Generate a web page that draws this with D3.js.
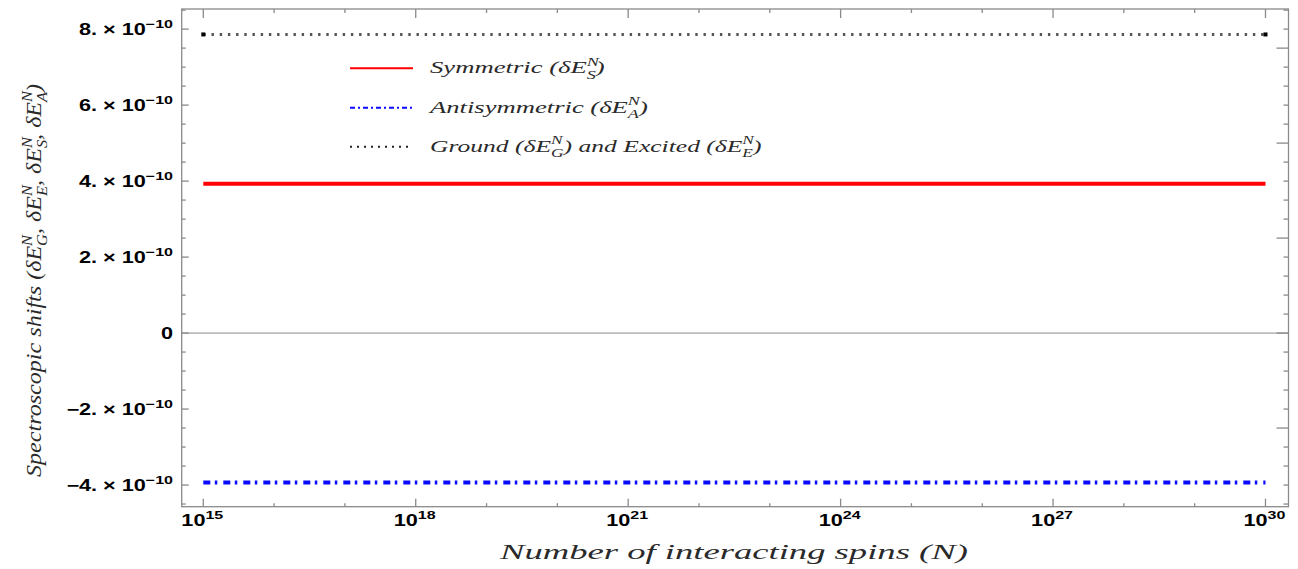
<!DOCTYPE html>
<html>
<head>
<meta charset="utf-8">
<title>Spectroscopic shifts</title>
<script src="https://d3js.org/d3.v7.min.js"></script>
<style>
body { margin: 0; background: #fff; }
svg { display: block; }
</style>
</head>
<body>
<div id="chart"></div>
<script>
// data
var spins = [1e15, 1e16, 1e17, 1e18, 1e19, 1e20, 1e21, 1e22, 1e23, 1e24, 1e25, 1e26, 1e27, 1e28, 1e29, 1e30];
var symmetric = [3.93e-10, 3.93e-10, 3.93e-10, 3.93e-10, 3.93e-10, 3.93e-10, 3.93e-10, 3.93e-10,
                 3.93e-10, 3.93e-10, 3.93e-10, 3.93e-10, 3.93e-10, 3.93e-10, 3.93e-10, 3.93e-10];
var antisymmetric = [-3.93e-10, -3.93e-10, -3.93e-10, -3.93e-10, -3.93e-10, -3.93e-10, -3.93e-10, -3.93e-10,
                     -3.93e-10, -3.93e-10, -3.93e-10, -3.93e-10, -3.93e-10, -3.93e-10, -3.93e-10, -3.93e-10];
var groundExcited = [7.86e-10, 7.86e-10, 7.86e-10, 7.86e-10, 7.86e-10, 7.86e-10, 7.86e-10, 7.86e-10,
                     7.86e-10, 7.86e-10, 7.86e-10, 7.86e-10, 7.86e-10, 7.86e-10, 7.86e-10, 7.86e-10];
var yMajor = [-4e-10, -2e-10, 0, 2e-10, 4e-10, 6e-10, 8e-10];
var yLabels = ["\u22124.", "\u22122.", "0", "2.", "4.", "6.", "8."];
var yRightMajor = [-2.5e-10, 0, 2.5e-10, 5e-10, 7.5e-10];
var xMajorExp = [15, 18, 21, 24, 27, 30];

var w = 1298, h = 569;
var pLeft = 181.7, pRight = 1288.5, pTop = 9, pBottom = 506.7;
var frameColor = "#8a8a8a";

var svg = d3.select("#chart").append("svg").attr("width", w).attr("height", h);

var x = d3.scaleLog().domain([Math.pow(10, 14.695), Math.pow(10, 30.325)]).range([pLeft, pRight]);
var y = d3.scaleLinear().domain([-4.57e-10, 8.53e-10]).range([pBottom, pTop]);

// helper: text built from pieces, n = normal, up = superscript, dn = subscript stacked under last sup
mathText = function(sel, parts, fs, supScale){
	supScale = supScale || 0.68;
	var t = sel.append("text").style("font-size", fs + "px").attr("x", 0).attr("y", 0);
	var shift = 0, lastSup = 0;
	parts.forEach(function(p){
		var s = t.append("tspan").text(p[0]);
		if(p[1] == "up"){
			s.style("font-size", (fs*supScale) + "px").attr("dy", -fs*0.42 - shift);
			shift = -fs*0.42;
			lastSup = s.node().getComputedTextLength();
		} else if(p[1] == "dn"){
			s.style("font-size", (fs*supScale) + "px").attr("dy", fs*0.3 - shift).attr("dx", -lastSup);
			shift = fs*0.3;
		} else {
			if(shift != 0) s.attr("dy", -shift);
			shift = 0;
		}
	});
	return t;
}
// put a text at (px, py), stretched sideways by sx, optional rotation
place = function(t, px, py, sx, rot){
	t.attr("transform", "translate(" + px + "," + py + ")" + (rot ? " rotate(" + rot + ")" : "") + " scale(" + sx + ",1)");
	return t;
}
stretchTo = function(t, target){
	return target / t.node().getComputedTextLength();
}

// zero line
svg.append("line")
	.attr("x1", pLeft).attr("x2", pRight)
	.attr("y1", y(0)).attr("y2", y(0))
	.attr("stroke", frameColor).attr("stroke-width", 1);

// frame
svg.append("rect")
	.attr("x", pLeft).attr("y", pTop)
	.attr("width", pRight - pLeft).attr("height", pBottom - pTop)
	.attr("fill", "none").attr("stroke", frameColor).attr("stroke-width", 1.3);

var ticks = svg.append("g").attr("stroke", frameColor).attr("stroke-width", 1.3);

// y ticks, left
d3.range(-9, 18).forEach(function(i){
	var v = i * 0.5e-10;
	var major = yMajor.some(function(m){ return Math.abs(m - v) < 1e-13; });
	ticks.append("line").attr("x1", pLeft).attr("x2", pLeft + (major ? 7 : 4))
		.attr("y1", y(v)).attr("y2", y(v));
});
// y ticks, right
d3.range(-9, 18).forEach(function(i){
	var v = i * 0.5e-10;
	var major = yRightMajor.some(function(m){ return Math.abs(m - v) < 1e-13; });
	ticks.append("line").attr("x1", pRight).attr("x2", pRight - (major ? 12 : 5))
		.attr("y1", y(v)).attr("y2", y(v));
});
// x ticks, bottom and top
d3.range(15, 31).forEach(function(e){
	var major = xMajorExp.indexOf(e) >= 0;
	ticks.append("line").attr("x1", x(Math.pow(10, e))).attr("x2", x(Math.pow(10, e)))
		.attr("y1", pBottom).attr("y2", pBottom - (major ? 8 : 3.5));
	ticks.append("line").attr("x1", x(Math.pow(10, e))).attr("x2", x(Math.pow(10, e)))
		.attr("y1", pTop).attr("y2", pTop + (major ? 9 : 4));
});

// tick labels, bold and wide like the original
var tl = svg.append("g").style("font-family", "'Liberation Sans', Arial, sans-serif")
	.style("font-weight", "bold").attr("fill", "#000");
var probe = mathText(tl, [["8. \u00d7 10", "n"], ["\u221210", "up"]], 16, 0.74);
var tickSx = stretchTo(probe, 94);
probe.remove();

yMajor.forEach(function(v, i){
	var parts = v == 0 ? [["0", "n"]] : [[yLabels[i] + " \u00d7 10", "n"], ["\u221210", "up"]];
	var t = mathText(tl, parts, 16, 0.74).attr("text-anchor", "end");
	place(t, 173, y(v) + 5.5, tickSx);
});
xMajorExp.forEach(function(e){
	var t = mathText(tl, [["10", "n"], [String(e), "up"]], 16, 0.74).attr("text-anchor", "middle");
	place(t, x(Math.pow(10, e)) - 1, 526, tickSx);
});

// series
var line = d3.line()
	.x(function(d){ return x(d[0]); })
	.y(function(d){ return y(d[1]); });

svg.append("path")
	.attr("d", line(d3.zip(spins, symmetric)))
	.attr("fill", "none").attr("stroke", "#ff0000").attr("stroke-width", 4);

svg.append("path")
	.attr("d", line(d3.zip(spins, antisymmetric)))
	.attr("fill", "none").attr("stroke", "#0a0aff").attr("stroke-width", 4)
	.attr("stroke-dasharray", "7,4.5,2.5,6");

svg.append("path")
	.attr("d", line(d3.zip(spins, groundExcited)))
	.attr("fill", "none").attr("stroke", "#555").attr("stroke-width", 3)
	.attr("stroke-dasharray", "2.4,5.8");
[spins[0], spins[spins.length - 1]].forEach(function(n){
	svg.append("rect")
		.attr("x", x(n) - 2).attr("y", y(groundExcited[0]) - 2)
		.attr("width", 4).attr("height", 4).attr("fill", "#000");
});

// legend
var serif = "'Liberation Serif', 'Times New Roman', serif";
var legend = svg.append("g").style("font-family", serif).style("font-style", "italic").attr("fill", "#2a2a2a");
var legendRows = [
	{ y: 68.3, color: "#ff0000", dash: null, parts: [["Symmetric (\u03b4E", "n"], ["N", "up"], ["S", "dn"], [")", "n"]], width: 187 },
	{ y: 107.7, color: "#0a0aff", dash: "5,3,2,3", parts: [["Antisymmetric (\u03b4E", "n"], ["N", "up"], ["A", "dn"], [")", "n"]], width: 230 },
	{ y: 146.7, color: "#222", dash: "2,5", parts: [["Ground (\u03b4E", "n"], ["N", "up"], ["G", "dn"], [") and Excited (\u03b4E", "n"], ["N", "up"], ["E", "dn"], [")", "n"]], width: 355 }
];
legendRows.forEach(function(r){
	legend.append("line")
		.attr("x1", 350).attr("x2", 413).attr("y1", r.y).attr("y2", r.y)
		.attr("stroke", r.color).attr("stroke-width", 2)
		.attr("stroke-dasharray", r.dash);
	var t = mathText(legend, r.parts, 17.5);
	place(t, 430, r.y + 5, stretchTo(t, r.width));
});

// axis titles
var titles = svg.append("g").style("font-family", serif).style("font-style", "italic").attr("fill", "#2a2a2a");
var xt = mathText(titles, [["Number of interacting spins (N)", "n"]], 22);
place(xt, 500, 559, stretchTo(xt, 468));

var yt = mathText(titles, [["Spectroscopic shifts (\u03b4E", "n"], ["N", "up"], ["G", "dn"], [", \u03b4E", "n"], ["N", "up"], ["E", "dn"],
		[", \u03b4E", "n"], ["N", "up"], ["S", "dn"], [", \u03b4E", "n"], ["N", "up"], ["A", "dn"], [")", "n"]], 21.5);
place(yt, 41, 477, stretchTo(yt, 437), -90);
</script>
</body>
</html>
